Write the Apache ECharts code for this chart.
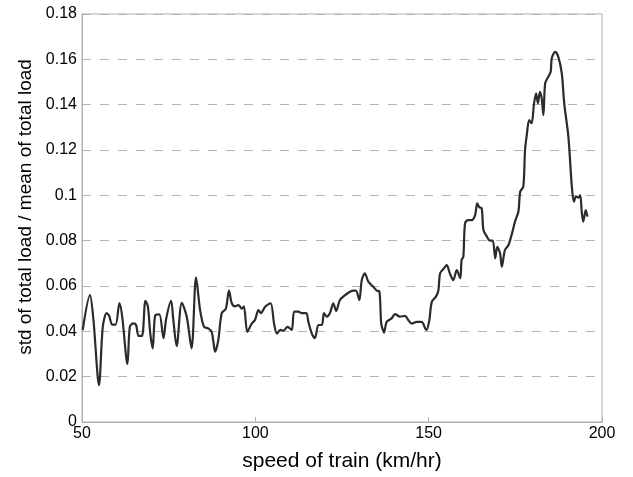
<!DOCTYPE html>
<html>
<head>
<meta charset="utf-8">
<script src="https://cdn.jsdelivr.net/npm/echarts@6/dist/echarts.min.js"></script>
<style>html,body{margin:0;padding:0;background:#fff}#c{width:633px;height:477px}</style>
</head>
<body>
<div id="c"></div>
<script>
var speed = [
  50.2, 52.3, 53.3, 54.9, 56.0, 57.1, 57.8, 58.7, 59.7, 60.8,
  61.6, 63.1, 63.8, 64.8, 65.6, 66.3, 67.3, 68.3, 69.0, 69.7,
  70.4, 71.1, 72.3, 73.5, 74.3, 75.7, 76.3, 77.3, 78.8, 80.2,
  81.6, 82.9, 84.1, 85.2, 86.4, 87.4, 87.9, 88.4, 89.3, 90.3,
  91.5, 92.4, 93.2, 94.1, 95.1, 96.1, 96.7, 97.7, 99.0, 99.9,
  100.9, 101.6, 102.9, 104.4, 105.4, 106.2, 107.2, 108.1, 109.3, 110.5,
  111.2, 112.4, 113.4, 114.7, 115.3, 116.3, 117.2, 118.2, 119.2, 119.8,
  120.6, 121.5, 122.5, 123.3, 124.4, 125.9, 127.3, 128.3, 129.0, 130.0,
  130.7, 131.6, 132.6, 134.0, 135.0, 135.8, 136.3, 136.8, 137.1, 137.9,
  139.3, 140.3, 141.7, 143.2, 144.1, 145.1, 146.6, 148.0, 149.0, 149.4,
  150.2, 150.9, 152.1, 152.8, 153.3, 154.4, 155.2, 156.1, 157.1, 158.1,
  159.1, 159.5, 160.0, 160.5, 161.4, 162.4, 163.4, 164.0, 164.6, 165.3,
  165.8, 166.8, 167.7, 168.5, 169.2, 169.8, 170.6, 171.1, 172.0, 173.0,
  174.0, 174.9, 175.9, 176.4, 177.3, 177.8, 178.3, 179.0, 179.7, 180.4,
  181.0, 181.5, 182.1, 182.6, 183.1, 183.6, 184.5, 185.2, 185.5, 186.5,
  187.4, 188.4, 189.1, 190.3, 191.3, 191.9, 192.5, 193.2, 193.7, 194.2,
  194.6, 195.3, 195.8
];
var ratio = [
  0.0406, 0.0560, 0.0450, 0.0163, 0.0420, 0.0480, 0.0470, 0.0430, 0.0430, 0.0525,
  0.0465, 0.0256, 0.0420, 0.0435, 0.0428, 0.0380, 0.0380, 0.0535, 0.0510, 0.0390,
  0.0325, 0.0470, 0.0475, 0.0370, 0.0457, 0.0535, 0.0457, 0.0335, 0.0526, 0.0465,
  0.0325, 0.0638, 0.0490, 0.0420, 0.0413, 0.0398, 0.0354, 0.0310, 0.0360, 0.0480,
  0.0500, 0.0580, 0.0524, 0.0510, 0.0516, 0.0500, 0.0510, 0.0398, 0.0435, 0.0450,
  0.0494, 0.0480, 0.0510, 0.0524, 0.0435, 0.0390, 0.0406, 0.0403, 0.0420, 0.0406,
  0.0487, 0.0487, 0.0480, 0.0480, 0.0442, 0.0390, 0.0370, 0.0428, 0.0428, 0.0480,
  0.0465, 0.0480, 0.0524, 0.0490, 0.0538, 0.0560, 0.0575, 0.0580, 0.0580, 0.0538,
  0.0626, 0.0656, 0.0619, 0.0597, 0.0580, 0.0575, 0.0435, 0.0406, 0.0394, 0.0442,
  0.0457, 0.0476, 0.0465, 0.0468, 0.0450, 0.0435, 0.0442, 0.0442, 0.0413, 0.0406,
  0.0450, 0.0530, 0.0553, 0.0580, 0.0656, 0.0678, 0.0692, 0.0656, 0.0626, 0.0670,
  0.0634, 0.0715, 0.0730, 0.0877, 0.0891, 0.0891, 0.0913, 0.0965, 0.0947, 0.0943,
  0.0847, 0.0818, 0.0800, 0.0800, 0.0722, 0.0773, 0.0744, 0.0685, 0.0759, 0.0780,
  0.0830, 0.0884, 0.0930, 0.1016, 0.1038, 0.1200, 0.1266, 0.1332, 0.1318, 0.1406,
  0.1450, 0.1406, 0.1457, 0.1428, 0.1354, 0.1494, 0.1523, 0.1545, 0.1604, 0.1633,
  0.1611, 0.1538, 0.1406, 0.1259, 0.1038, 0.0972, 0.0994, 0.0990, 0.1001, 0.0920,
  0.0884, 0.0935, 0.0906
];
var xTicks = [50, 100, 150, 200];
var yTicks = [0, 0.02, 0.04, 0.06, 0.08, 0.1, 0.12, 0.14, 0.16, 0.18];

var pts = speed.map(function (s, i) { return [s, ratio[i]]; });
var chart = echarts.init(document.getElementById('c'), null, { renderer: 'canvas' });
var font = 'Liberation Sans, Arial, sans-serif';
chart.setOption({
  animation: false,
  backgroundColor: '#ffffff',
  grid: { left: 82, right: 31, top: 14, bottom: 55, show: true, borderColor: '#b0b0b0', borderWidth: 1, containLabel: false },
  xAxis: {
    type: 'value', min: xTicks[0], max: xTicks[xTicks.length - 1], interval: 50,
    name: 'speed of train (km/hr)', nameLocation: 'middle', nameGap: 29,
    nameTextStyle: { fontFamily: font, fontSize: 21, color: '#000' },
    axisLine: { lineStyle: { color: '#b0b0b0' } },
    axisTick: { inside: true, length: 5, lineStyle: { color: '#b0b0b0' } },
    axisLabel: { fontFamily: font, fontSize: 16, color: '#000', margin: 4 },
    splitLine: { show: false }
  },
  yAxis: {
    type: 'value', min: yTicks[0], max: yTicks[yTicks.length - 1], interval: 0.02,
    name: 'std of total load / mean of total load', nameLocation: 'middle', nameGap: 42,
    nameTextStyle: { fontFamily: font, fontSize: 19, color: '#000', padding: [0, 0, 0, 22] },
    axisLine: { lineStyle: { color: '#b0b0b0' } },
    axisTick: { inside: true, length: 5, lineStyle: { color: '#b0b0b0' } },
    axisLabel: { fontFamily: font, fontSize: 16, color: '#000', margin: 5 },
    splitLine: { show: true, lineStyle: { color: '#b4b4b4', type: [9, 9], width: 1 } }
  },
  series: [{
    type: 'line', data: pts, showSymbol: false, symbol: 'none', smooth: 0.3,
    lineStyle: { color: '#2b2b2b', width: 2.2 }
  }]
});
</script>
</body>
</html>
